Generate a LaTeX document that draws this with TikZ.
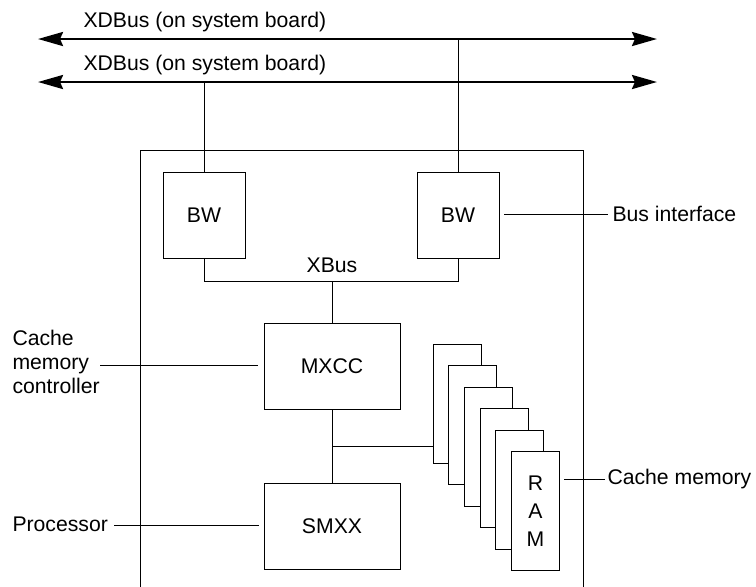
\documentclass[tikz,border=0pt]{standalone}
\usepackage{fontspec}
\setmainfont{Liberation Sans}
\usetikzlibrary{arrows.meta,calc,positioning}

\begin{document}
\begin{tikzpicture}[x=0.5pt,y=-0.5pt,line width=0.5pt,
    every node/.style={font=\fontsize{10.6}{12}\selectfont},
    box/.style={draw,fill=white,minimum width=41pt,minimum height=43pt,inner sep=0pt},
    wide/.style={box,minimum width=68pt},
    ram/.style={draw,fill=white,minimum width=24pt,minimum height=59.5pt,inner sep=0pt,align=center},
    bus/.style={line width=1.3pt,{Stealth[length=12.5pt,width=7pt,inset=1.5pt]}-{Stealth[length=12.5pt,width=7pt,inset=1.5pt]}},
    tag/.style={inner sep=0pt}]
  \useasboundingbox (0,0) rectangle (756,586);

  % system board buses
  \coordinate (b1w) at (38,39);
  \coordinate (b1e) at (657,39);
  \coordinate (b2w) at (38,82);
  \coordinate (b2e) at (657,82);
  \draw[bus] (b1w) -- (b1e);
  \draw[bus] (b2w) -- (b2e);
  \node[tag,anchor=base west] (xd1) at (83,27) {XDBus (on system board)};
  \node[tag,anchor=base west] (xd2) at (83,70.5) {XDBus (on system board)};

  % module outline (open at the bottom)
  \draw (140,590) -- (140,150) -- (583,150) -- (583,590);

  % bus watchers
  \node[box] (bw1) at (204,215) {BW};
  \node[box] (bw2) at (458,215) {BW};
  \draw (bw1.north) -- (bw1.north |- b2w);
  \draw (bw2.north) -- (bw2.north |- b1w);

  % XBus
  \coordinate (xbus) at (332,281);
  \draw (bw1.south) |- (bw2.south |- xbus) -- (bw2.south);
  \node (xbl) at (332,265) {XBus};

  % MXCC and SMXX
  \node[wide] (mxcc) at (332,366) {MXCC};
  \node[wide] (smxx) at (332,526) {SMXX};
  \draw (xbus) -- (mxcc.north);
  \draw (mxcc.south) -- (smxx.north);

  % cache RAM stack
  \foreach \i in {0,...,4}
    \node[ram] (ram\i) at (457+15.7*\i,403.5+21.5*\i) {};
  \node[ram] (ram5) at (535.5,511) {R\\[2pt]A\\[2pt]M};
  \coordinate (br) at (332,446);
  \draw (br) -- (ram0.west |- br);

  % callouts
  \node[tag,anchor=west] (busif) at (612,214) {Bus interface};
  \coordinate (bifend) at (504,214);
  \draw (bifend) -- ($(busif.west)+(-4,0)$);

  \node[tag,anchor=west,align=left] (cmc) at (12,362) {Cache\\memory\\controller};
  \coordinate (cmcend) at (100,365);
  \draw (cmcend) -- ($(cmcend -| mxcc.west)+(-6,0)$);

  \node[tag,anchor=base west] (proc) at (12,531) {Processor};
  \coordinate (procend) at (114,525);
  \draw (procend) -- ($(procend -| smxx.west)+(-5,0)$);

  \node[tag,anchor=west] (cmem) at (607,479) {Cache memory};
  \draw ($(ram5.east |- cmem)+(4,0)$) -- ($(cmem.west)+(-2,0)$);
\end{tikzpicture}
\end{document}
